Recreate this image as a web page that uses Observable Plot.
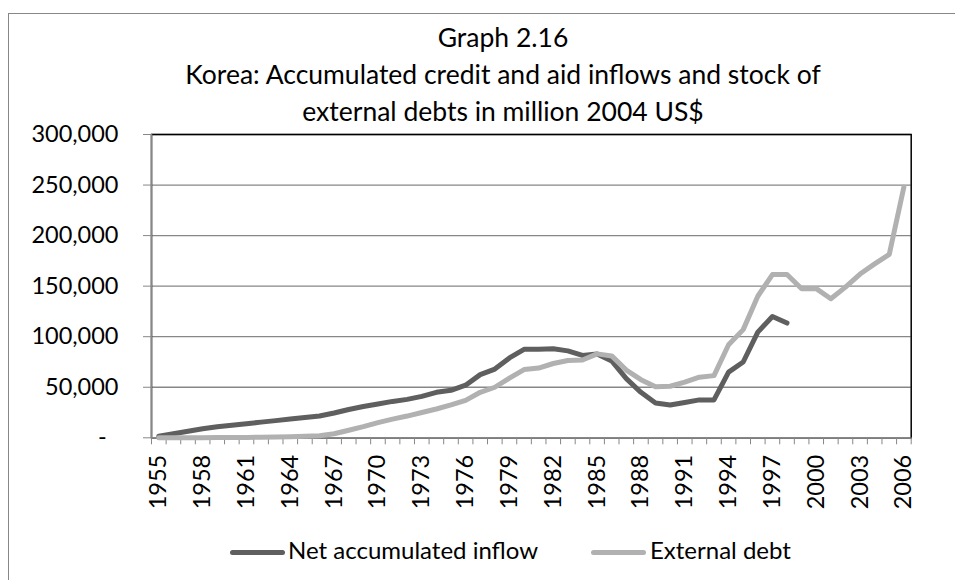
<!DOCTYPE html>
<html>
<head>
<meta charset="utf-8">
<script src="https://cdn.jsdelivr.net/npm/d3@7"></script>
<script src="https://cdn.jsdelivr.net/npm/@observablehq/plot@0.6"></script>
<style>
  html, body { margin: 0; padding: 0; background: #fff; overflow: hidden; }
  #wrap { position: relative; width: 955px; height: 580px; overflow: hidden; font-family: Lato, "Open Sans", sans-serif; color: #000; }
  #frame { position: absolute; left: 7.5px; top: 13px; width: 1100px; height: 700px; border: 1.5px solid #878787; box-sizing: border-box; }
  #title { position: absolute; left: 0; top: 18.5px; width: 1006px; text-align: center; font-size: 26.5px; line-height: 37px; white-space: nowrap; }
  #chart { position: absolute; left: 0; top: 0; }
  .leg { position: absolute; font-size: 24px; line-height: 30px; white-space: nowrap; }
  .swatch { position: absolute; height: 5px; width: 55px; border-radius: 2.5px; }
</style>
</head>
<body>
<div id="wrap">
  <div id="frame"></div>
  <div id="chart"></div>
  <div id="title">Graph 2.16<br>Korea: Accumulated credit and aid inflows and stock of<br>external debts in million 2004 US$</div>
  <div class="swatch" style="left:230px; top:550.2px; background:#5f5f5f;"></div>
  <div class="leg" style="left:288px; top:534.7px;">Net accumulated inflow</div>
  <div class="swatch" style="left:591px; top:550.2px; background:#b1b1b1;"></div>
  <div class="leg" style="left:650px; top:534.7px;">External debt</div>
</div>
<script>
// ---- Data ----
const years = [1955,1956,1957,1958,1959,1960,1961,1962,1963,1964,1965,1966,1967,1968,1969,1970,
  1971,1972,1973,1974,1975,1976,1977,1978,1979,1980,1981,1982,1983,1984,1985,1986,1987,1988,1989,1990,
  1991,1992,1993,1994,1995,1996,1997,1998,1999,2000,2001,2002,2003,2004,2005,2006];

// Net accumulated inflow, 1955-1998
const netInflow = [1500,4000,6500,9000,11000,12500,14000,15500,17000,18500,20000,21500,24500,28000,31000,33500,
  36000,38000,41000,45000,47000,52000,62500,68000,79000,87500,87500,88000,86000,81500,83000,76000,58500,45000,34500,32500,
  35000,37500,37500,65000,75000,104500,120000,113500];

// External debt, 1955-2006
const externalDebt = [0,0,0,100,200,300,400,600,800,1100,1500,2000,4000,7500,11000,15000,
  18500,21500,25000,28500,32500,37000,45000,50000,59000,67500,69000,73500,76500,77000,83000,81000,67000,57500,50500,51000,
  55000,60000,61500,92000,107000,140000,161500,161500,147500,147500,137500,149000,162000,172000,181500,248000];

const xTickYears = [1955,1958,1961,1964,1967,1970,1973,1976,1979,1982,1985,1988,1991,1994,1997,2000,2003,2006];
const yTicks = [0,50000,100000,150000,200000,250000,300000];
const yTickLabels = ["-\u2002","50,000","100,000","150,000","200,000","250,000","300,000"];

// ---- Derived tables ----
const netData = netInflow.map((v, i) => ({year: years[i], value: v}));
const debtData = externalDebt.map((v, i) => ({year: years[i], value: v}));
const xDomain = [years[0] - 0.5, years[years.length - 1] + 0.5];
const boundaries = years.map(y => y - 0.5).concat([years[years.length - 1] + 0.5]);

const axisGray = "#878787";

const chart = Plot.plot({
  width: 955,
  height: 580,
  marginLeft: 151,
  marginRight: 44.3,
  marginTop: 134,
  marginBottom: 142.7,
  x: {type: "linear", domain: xDomain, axis: null, label: null},
  y: {type: "linear", domain: [0, 300000], axis: null, label: null},
  style: {fontFamily: "Lato, 'Open Sans', sans-serif", background: "transparent", overflow: "visible", color: "#000"},
  marks: [
    Plot.ruleY(yTicks.filter(d => d > 0), {stroke: axisGray, strokeWidth: 1.3}),
    Plot.frame({stroke: "#000", strokeWidth: 1.5}),
    Plot.ruleX([xDomain[0]], {stroke: axisGray, strokeWidth: 1.5}),
    Plot.ruleY([0], {stroke: axisGray, strokeWidth: 1.5}),
    Plot.axisY({ticks: yTicks, tickSize: 8, tickPadding: 25, fontSize: 23.5, label: null,
      tickFormat: d => yTickLabels[yTicks.indexOf(d)], stroke: axisGray, fill: "#000"}),
    Plot.axisX({ticks: boundaries, tickSize: 7, tickFormat: () => "", stroke: axisGray, label: null}),
    Plot.axisX({ticks: xTickYears, tickSize: 0, tickPadding: 17, tickRotate: -90, fontSize: 23.5, label: null,
      tickFormat: d => String(d), fill: "#000"}),
    Plot.line(netData, {x: "year", y: "value", stroke: "#5f5f5f", strokeWidth: 5,
      strokeLinejoin: "round", strokeLinecap: "round"}),
    Plot.line(debtData, {x: "year", y: "value", stroke: "#b1b1b1", strokeWidth: 5,
      strokeLinejoin: "round", strokeLinecap: "round"})
  ]
});
document.getElementById("chart").appendChild(chart);
</script>
</body>
</html>
